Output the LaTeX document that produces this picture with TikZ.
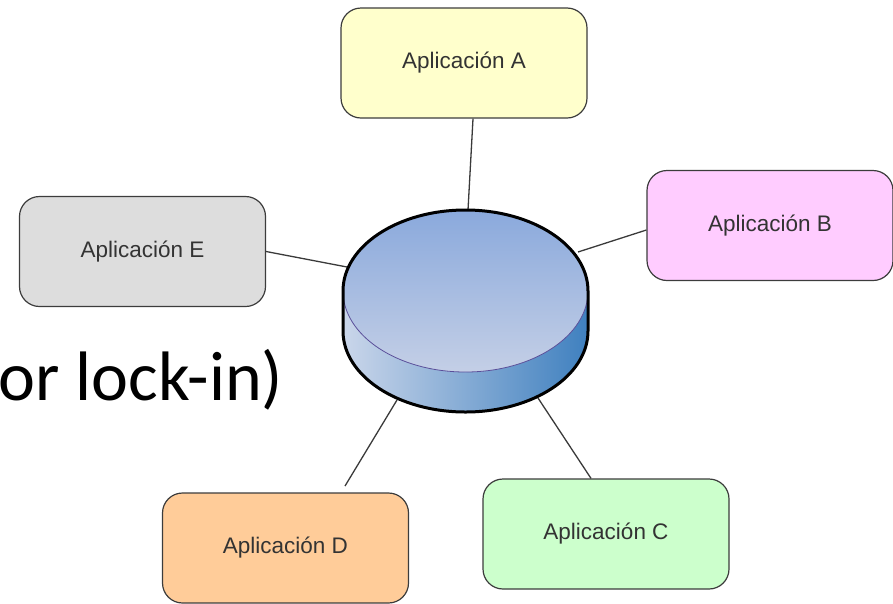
\documentclass[tikz,border=0pt]{standalone}
\usepackage{fontspec}
\newfontfamily\appfont{Liberation Sans}
\newfontfamily\slidefont{Carlito}
\definecolor{fillA}{HTML}{FFFFCC}
\definecolor{fillB}{HTML}{FFCCFF}
\definecolor{fillC}{HTML}{CCFFCC}
\definecolor{fillD}{HTML}{FFCC99}
\definecolor{fillE}{HTML}{DDDDDD}
\definecolor{boxline}{HTML}{3C3C3C}
\definecolor{apptext}{HTML}{333333}
\definecolor{wire}{HTML}{3A3A3A}
\definecolor{dbtop}{HTML}{8AA9DC}
\definecolor{dbtopfade}{HTML}{C4CFE6}
\definecolor{dbsideL}{HTML}{CAD6EA}
\definecolor{dbsideR}{HTML}{3F80BF}
\definecolor{dbrim}{HTML}{5A4F9A}
\tikzset{
  appbox/.style={draw=boxline, line width=1.2pt, rounded corners=20pt,
    minimum width=246pt, minimum height=110pt,
    font=\appfont\fontsize{22.5}{26}\selectfont, text=apptext},
  wireline/.style={draw=wire, line width=1.3pt},
}
\begin{document}
\begin{tikzpicture}[x=1pt, y=1pt]
\useasboundingbox (0,0) rectangle (893,-603);

% application boxes
\node[appbox, fill=fillA] (A) at (464,-63)    {Aplicación A};
\node[appbox, fill=fillB] (B) at (770,-225.5) {Aplicación B};
\node[appbox, fill=fillC] (C) at (606,-534)   {Aplicación C};
\node[appbox, fill=fillD] (D) at (285.5,-548) {Aplicación D};
\node[appbox, fill=fillE] (E) at (142.5,-251.5) {Aplicación E};

% attachment points on the database rim
\coordinate (dbA) at (468,-210);
\coordinate (dbB) at (578,-252);
\coordinate (dbC) at (538,-398);
\coordinate (dbD) at (397,-400);
\coordinate (dbE) at (347,-267);
\coordinate (endD) at (345,-486);

% connectors
\draw[wireline] ([xshift=9pt]A.south) -- (dbA);
\draw[wireline] ([yshift=-4.5pt]B.west) -- (dbB);
\draw[wireline] ([xshift=-15pt]C.north) -- (dbC);
\draw[wireline] (dbD) -- (endD);
\draw[wireline] (E.east) -- (dbE);

% database cylinder
\coordinate (db) at (465.5,-311);
\shade[left color=dbsideL, right color=dbsideR]
  (343,-291) -- (343,-331)
  arc[start angle=180, end angle=360, x radius=122.5, y radius=81]
  -- (588,-291)
  arc[start angle=360, end angle=180, x radius=122.5, y radius=81] -- cycle;
\shade[top color=dbtop, bottom color=dbtopfade]
  (465.5,-291) ellipse [x radius=122.5, y radius=81];
\draw[dbrim, line width=0.8pt]
  (343,-291) arc[start angle=180, end angle=360, x radius=122.5, y radius=81];
\draw[black, line width=3pt, line join=round]
  (343,-291) -- (343,-331)
  arc[start angle=180, end angle=360, x radius=122.5, y radius=81]
  -- (588,-291)
  arc[start angle=0, end angle=180, x radius=122.5, y radius=81] -- cycle;

% slide text
\node[anchor=base west, inner sep=0pt,
      font=\slidefont\fontsize{70}{80}\selectfont] (note) at (-1.5,-400) {or lock-in)};
\end{tikzpicture}
\end{document}
